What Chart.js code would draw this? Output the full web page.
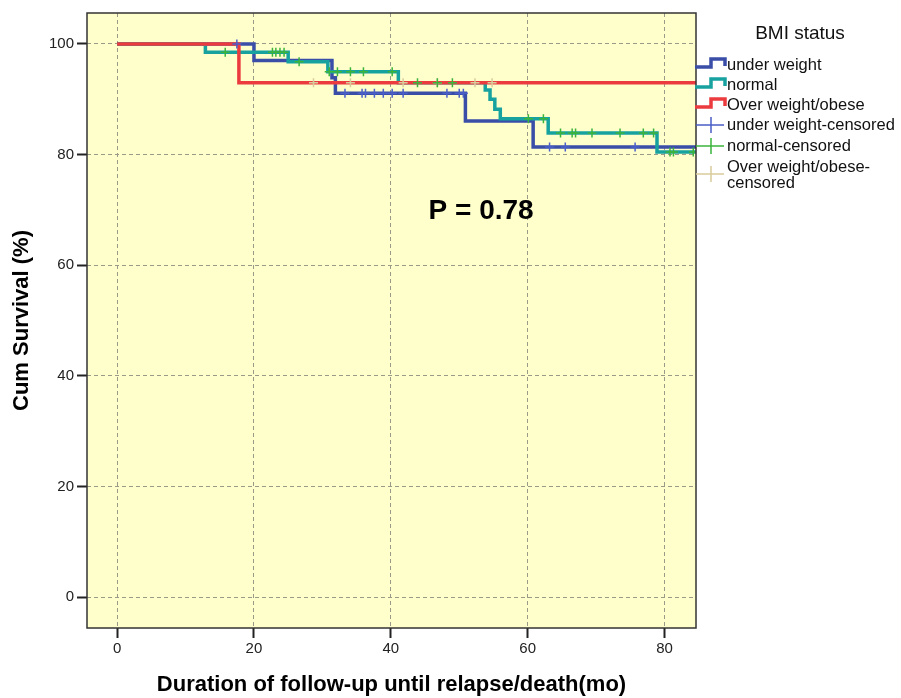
<!DOCTYPE html>
<html>
<head>
<meta charset="utf-8">
<script src="https://cdn.jsdelivr.net/npm/chart.js@4.4.1/dist/chart.umd.min.js"></script>
<style>
  body { margin: 0; background: #fff; }
  canvas { display: block; }
</style>
</head>
<body>
<canvas id="km" width="901" height="698"></canvas>
<script>
// Kaplan-Meier steps: time (months) and cum survival (%) after each event
const underTimes  = [0, 20.0, 31.4, 31.9, 50.9, 60.8, 84.6];
const underSurv   = [100, 97.0, 93.9, 91.1, 86.1, 81.4, 81.4];
const normalTimes = [0, 12.9, 25.0, 30.8, 41.1, 53.8, 54.5, 55.2, 56.0, 63.0, 78.9, 84.6];
const normalSurv  = [100, 98.5, 96.8, 95.0, 93.0, 91.7, 90.0, 88.2, 86.5, 83.9, 80.5, 80.5];
const overTimes   = [0, 17.8, 84.6];
const overSurv    = [100, 93.0, 93.0];

// censored cases (months)
const underCensored  = [17.5, 33.3, 35.8, 36.3, 37.6, 38.9, 40.2, 41.8, 48.2, 50.0, 50.6, 63.2, 65.5, 75.7];
const normalCensored = [15.8, 22.7, 23.2, 23.8, 24.4, 26.6, 31.0, 32.2, 34.1, 36.0, 40.2, 43.9, 46.8, 49.0,
                        60.1, 62.3, 64.8, 66.5, 67.0, 69.4, 73.5, 76.9, 78.4, 80.8, 81.3, 84.2];
const overCensored   = [28.7, 34.1, 41.8, 46.8, 52.3, 54.8];

const xTicks = [0, 20, 40, 60, 80];
const yTicks = [0, 20, 40, 60, 80, 100];
const pText = 'P = 0.78';
const pPos = { x: 53.2, y: 69.7 };

const legendTitle = 'BMI status';
const legendItems = [
  { text: ['under weight'], color: '#3a4ea8', kind: 'step' },
  { text: ['normal'], color: '#17a2a0', kind: 'step' },
  { text: ['Over weight/obese'], color: '#ec3b3f', kind: 'step' },
  { text: ['under weight-censored'], color: '#4a5fc8', kind: 'cens' },
  { text: ['normal-censored'], color: '#3cb43c', kind: 'cens' },
  { text: ['Over weight/obese-', 'censored'], color: '#d9cc9c', kind: 'cens' }
];

const FONT = "'Liberation Sans', Arial, sans-serif";

// value of a step curve at time t
function survAt(times, surv, t) {
  let v = surv[0];
  for (let i = 0; i < times.length; i++) {
    if (times[i] <= t) v = surv[i];
  }
  return v;
}

function curve(label, times, surv, color, order) {
  return {
    label: label,
    data: times.map((t, i) => ({ x: t, y: surv[i] })),
    borderColor: color,
    borderWidth: 3.5,
    stepped: true,
    pointRadius: 0,
    fill: false,
    order: order
  };
}

function marks(label, censored, times, surv, color, width) {
  return {
    label: label,
    data: censored.map(t => ({ x: t, y: survAt(times, surv, t) })),
    showLine: false,
    pointStyle: 'cross',
    pointRadius: 4.5,
    borderColor: color,
    pointBorderWidth: width,
    order: 0
  };
}

const bgPlugin = {
  id: 'plotBg',
  beforeDraw(chart) {
    const { ctx, chartArea: a } = chart;
    ctx.save();
    ctx.fillStyle = '#ffffcc';
    ctx.fillRect(a.left, a.top, a.right - a.left, a.bottom - a.top);
    ctx.restore();
  }
};

const extrasPlugin = {
  id: 'extras',
  afterDraw(chart) {
    const { ctx, chartArea: a, scales } = chart;
    ctx.save();
    // frame
    ctx.strokeStyle = '#333';
    ctx.lineWidth = 1.5;
    ctx.strokeRect(a.left, a.top, a.right - a.left, a.bottom - a.top);

    // p-value
    ctx.fillStyle = '#000';
    ctx.font = 'bold 28px ' + FONT;
    ctx.textAlign = 'center';
    ctx.textBaseline = 'middle';
    ctx.fillText(pText, scales.x.getPixelForValue(pPos.x), scales.y.getPixelForValue(pPos.y));

    // legend
    ctx.fillStyle = '#111';
    ctx.font = '19px ' + FONT;
    ctx.fillText(legendTitle, 800, 34);
    ctx.font = '16.5px ' + FONT;
    ctx.textAlign = 'left';
    const rows = [65, 85, 105, 125, 146, 167];
    legendItems.forEach((it, i) => {
      const cy = rows[i];
      ctx.fillStyle = '#111';
      it.text.forEach((line, j) => ctx.fillText(line, 727, cy + j * 16));
      ctx.strokeStyle = it.color;
      ctx.beginPath();
      if (it.kind === 'step') {
        ctx.lineWidth = 3.5;
        ctx.moveTo(695, cy + 2);
        ctx.lineTo(711, cy + 2);
        ctx.lineTo(711, cy - 6);
        ctx.lineTo(725, cy - 6);
        ctx.lineTo(725, cy + 1);
      } else {
        const iy = it.text.length > 1 ? cy + 7 : cy;
        ctx.lineWidth = 1.5;
        ctx.moveTo(696, iy);
        ctx.lineTo(724, iy);
        ctx.moveTo(711, iy - 8);
        ctx.lineTo(711, iy + 8);
      }
      ctx.stroke();
    });
    ctx.restore();
  }
};

const axisGrid = {
  color: '#9a9a88',
  lineWidth: 1,
  tickLength: 10,
  tickWidth: 2,
  tickColor: '#222',
  tickBorderDash: []
};

new Chart(document.getElementById('km'), {
  type: 'line',
  data: {
    datasets: [
      marks('under weight-censored', underCensored, underTimes, underSurv, '#4a5fc8', 1.5),
      marks('normal-censored', normalCensored, normalTimes, normalSurv, '#3cb43c', 1.5),
      marks('Over weight/obese-censored', overCensored, overTimes, overSurv, '#d9cc9c', 1.5),
      curve('Over weight/obese', overTimes, overSurv, '#ec3b3f', 1),
      curve('normal', normalTimes, normalSurv, '#17a2a0', 2),
      curve('under weight', underTimes, underSurv, '#3a4ea8', 3)
    ]
  },
  options: {
    responsive: false,
    animation: false,
    events: [],
    layout: { padding: { left: 0, top: 13, right: 205, bottom: 0 } },
    plugins: { legend: { display: false }, tooltip: { enabled: false } },
    scales: {
      x: {
        type: 'linear',
        min: -4.4,
        max: 84.6,
        afterBuildTicks: s => { s.ticks = xTicks.map(v => ({ value: v })); },
        afterFit: s => { s.height = 70; },
        grid: axisGrid,
        border: { display: false, dash: [4, 3] },
        ticks: { color: '#222', padding: 2, font: { family: FONT, size: 15 } },
        title: {
          display: true,
          text: 'Duration of follow-up until relapse/death(mo)',
          color: '#000',
          font: { family: FONT, size: 22, weight: 'bold' },
          padding: { top: 0, bottom: 0 }
        }
      },
      y: {
        min: -5.55,
        max: 105.6,
        afterBuildTicks: s => { s.ticks = yTicks.map(v => ({ value: v })); },
        afterFit: s => { s.width = 87; },
        grid: axisGrid,
        border: { display: false, dash: [4, 3] },
        ticks: { color: '#222', padding: 3, font: { family: FONT, size: 15 } },
        title: {
          display: true,
          text: 'Cum Survival (%)',
          color: '#000',
          font: { family: FONT, size: 22, weight: 'bold' },
          padding: { top: 9, bottom: 0 }
        }
      }
    }
  },
  plugins: [bgPlugin, extrasPlugin]
});
</script>
</body>
</html>
